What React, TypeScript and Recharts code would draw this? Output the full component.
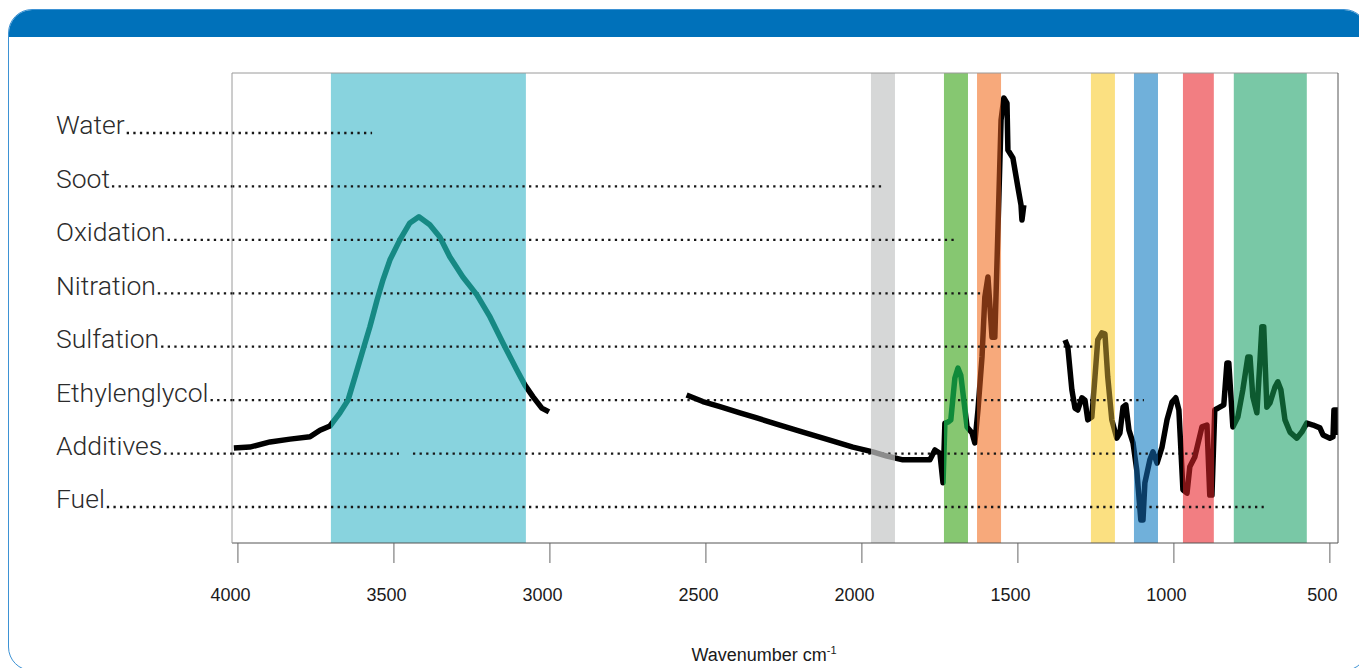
import React from "react";
import {
  ComposedChart,
  Line,
  XAxis,
  YAxis,
  ReferenceArea,
  ReferenceLine,
} from "recharts";

// IR spectrum (wavenumber cm-1 / relative absorbance); nulls split the three ranges
const spectrumWn = [
  4013, 3962, 3897, 3833, 3769, 3737, 3705, 3673, 3647, 3625, 3599, 3577, 3554, 3535, 3513, 3481, 3449, 3420,
  3385, 3353, 3321, 3279, 3234, 3192, 3151, 3106, 3080, 3054, 3026, 3003,
  2800,
  2562, 2510, 2455, 2391, 2337, 2263, 2189, 2103, 2029, 1965, 1920, 1869, 1814, 1782, 1766, 1750, 1740, 1734,
  1724, 1715, 1702, 1692, 1683, 1663, 1647, 1638, 1628, 1615, 1606, 1596, 1583, 1574, 1564, 1554, 1545, 1535,
  1532, 1516, 1500, 1490, 1487, 1481,
  1420,
  1349, 1340, 1327, 1317, 1308, 1295, 1285, 1276, 1263, 1253, 1244, 1231, 1221, 1212, 1199, 1183, 1173, 1163,
  1154, 1144, 1131, 1119, 1106, 1099, 1093, 1077, 1067, 1054, 1038, 1022, 1006, 994, 984, 971, 958, 949, 933,
  910, 894, 885, 878, 869, 853, 840, 830, 824, 811, 795, 779, 763, 756, 747, 734, 724, 718, 712, 702, 692, 676,
  667, 657, 644, 628, 606, 590, 574, 554, 532, 522, 500, 490, 487, 476, 475,
];
const spectrumAbs = [
  0.202, 0.204, 0.215, 0.221, 0.226, 0.24, 0.249, 0.277, 0.304, 0.353, 0.411, 0.46, 0.517, 0.56, 0.602, 0.645,
  0.681, 0.694, 0.677, 0.651, 0.609, 0.566, 0.528, 0.481, 0.426, 0.368, 0.336, 0.311, 0.287, 0.279,
  null,
  0.315, 0.301, 0.29, 0.277, 0.266, 0.251, 0.236, 0.219, 0.204, 0.194, 0.185, 0.177, 0.177, 0.177, 0.198, 0.191,
  0.128, 0.255, 0.257, 0.262, 0.351, 0.372, 0.357, 0.247, 0.234, 0.213, 0.283, 0.396, 0.523, 0.566, 0.438, 0.438,
  0.666, 0.9, 0.947, 0.936, 0.836, 0.819, 0.757, 0.719, 0.687, 0.719,
  null,
  0.432, 0.417, 0.326, 0.287, 0.283, 0.309, 0.304, 0.262, 0.268, 0.353, 0.432, 0.447, 0.445, 0.353, 0.262, 0.223,
  0.234, 0.289, 0.294, 0.24, 0.213, 0.155, 0.049, 0.049, 0.128, 0.177, 0.194, 0.17, 0.204, 0.262, 0.3, 0.309,
  0.283, 0.113, 0.106, 0.162, 0.183, 0.247, 0.251, 0.102, 0.102, 0.283, 0.289, 0.294, 0.383, 0.383, 0.247, 0.268,
  0.326, 0.396, 0.396, 0.311, 0.277, 0.389, 0.46, 0.46, 0.289, 0.298, 0.332, 0.343, 0.326, 0.262, 0.236, 0.223,
  0.236, 0.255, 0.251, 0.245, 0.23, 0.223, 0.226, 0.283, 0.283, 0.23,
];

// highlighted absorption bands (wavenumber ranges)
const bandFrom = [3702, 1971, 1737, 1631, 1266, 1128, 971, 808];
const bandTo = [3077, 1894, 1660, 1554, 1189, 1051, 872, 574];

const rowLabels = ["Water", "Soot", "Oxidation", "Nitration", "Sulfation", "Ethylenglycol", "Additives", "Fuel"];
const rowEnds = [3570, 1936, 1699, 1599, 1260, 1096, 939, 712];
const additivesGap = [3484, 3439];

const xTicks = [4000, 3500, 3000, 2500, 2000, 1500, 1000, 500];

// styling
const bandFill = ["#88d3de", "#d6d7d7", "#86c771", "#f7a97b", "#fbe081", "#70b0da", "#f27e82", "#79c8a6"];
const bandInk = ["#168984", "#8c8c8c", "#108a3a", "#7b3413", "#6f5a1c", "#0b3d66", "#7d1416", "#0d5a30"];
const X_DOMAIN: [number, number] = [474, 4019];
const ROW_DOMAIN: [number, number] = [0.326, 9.123];
const LABEL_FONT = "Roboto, 'Open Sans', sans-serif";
const AXIS_FONT = "'Liberation Sans', Arial, sans-serif";
const DOTS = { stroke: "#161616", strokeWidth: 2.3, strokeDasharray: "2.3 4.3" };

const spectrum = spectrumWn.map((wn, i) => ({ wn, abs: spectrumAbs[i] }));
const wnMax = Math.max(...spectrumWn);
const wnMin = Math.min(...spectrumWn);
const gradOffset = (v: number) => (wnMax - v) / (wnMax - wnMin);

const measureCtx = typeof document !== "undefined" ? document.createElement("canvas").getContext("2d") : null;

function RowTick(props: any) {
  const { y, payload } = props;
  const label = rowLabels[rowLabels.length - payload.value];
  if (!label) return null;
  let w = label.length * 12;
  if (measureCtx) {
    measureCtx.font = `300 26.5px ${LABEL_FONT}`;
    w = measureCtx.measureText(label).width;
  }
  return (
    <g>
      <text x={56} y={y + 1.5} fontFamily={LABEL_FONT} fontWeight={300} fontSize={26.5} fill="#2b2b2b">
        {label}
      </text>
      <line x1={56 + w + 2} x2={232} y1={y} y2={y} {...DOTS} />
    </g>
  );
}

function WnTick(props: any) {
  const { x, y, payload } = props;
  return (
    <text x={x - 7.5} y={y} dy="0.71em" textAnchor="middle" fontSize={18} fill="#1a1a1a" fontFamily={AXIS_FONT}>
      {payload.value}
    </text>
  );
}

export default function App() {
  const stops: { off: number; color: string }[] = [{ off: 0, color: "#000" }];
  bandFrom.forEach((from, i) => {
    stops.push({ off: gradOffset(from), color: "#000" });
    stops.push({ off: gradOffset(from), color: bandInk[i] });
    stops.push({ off: gradOffset(bandTo[i]), color: bandInk[i] });
    stops.push({ off: gradOffset(bandTo[i]), color: "#000" });
  });
  stops.push({ off: 1, color: "#000" });

  return (
    <div style={{ position: "fixed", left: 0, top: 0, width: 1359, height: 668, overflow: "hidden", background: "#fff" }}>
      <div
        style={{
          position: "absolute",
          left: 8,
          top: 9,
          width: 1360,
          height: 662,
          boxSizing: "border-box",
          border: "1.5px solid #3d92d4",
          borderRadius: 24,
          overflow: "hidden",
        }}
      >
        <div style={{ height: 27, background: "#0071ba" }} />
      </div>
      <div style={{ position: "absolute", left: 0, top: 0 }}>
        <ComposedChart
          width={1359}
          height={668}
          data={spectrum}
          margin={{ top: 72, right: 20, bottom: 0, left: 0 }}
        >
          <defs>
            <linearGradient id="bandInk" x1="0" y1="0" x2="1" y2="0">
              {stops.map((s, i) => (
                <stop key={i} offset={s.off} stopColor={s.color} />
              ))}
            </linearGradient>
          </defs>
          <XAxis
            dataKey="wn"
            type="number"
            domain={X_DOMAIN}
            reversed
            allowDataOverflow
            ticks={xTicks}
            interval={0}
            height={125}
            tickSize={20}
            tickMargin={25}
            tickLine={{ stroke: "#666" }}
            axisLine={{ stroke: "#555" }}
            tick={<WnTick />}
          />
          <XAxis
            xAxisId="top"
            orientation="top"
            dataKey="wn"
            type="number"
            domain={X_DOMAIN}
            reversed
            allowDataOverflow
            height={1}
            tick={false}
            tickLine={false}
            axisLine={{ stroke: "#9a9a9a" }}
          />
          <YAxis
            yAxisId="rows"
            orientation="left"
            type="number"
            domain={ROW_DOMAIN}
            allowDataOverflow
            ticks={[1, 2, 3, 4, 5, 6, 7, 8]}
            interval={0}
            width={232}
            tickLine={false}
            axisLine={{ stroke: "#9a9a9a" }}
            tick={<RowTick />}
          />
          <YAxis
            yAxisId="abs"
            orientation="right"
            type="number"
            domain={[0, 1]}
            allowDataOverflow
            width={1}
            tick={false}
            tickLine={false}
            axisLine={{ stroke: "#555" }}
          />
          {bandFrom.map((from, i) => (
            <ReferenceArea
              key={`band-${i}`}
              yAxisId="abs"
              x1={from}
              x2={bandTo[i]}
              fill={bandFill[i]}
              fillOpacity={1}
              stroke="none"
            />
          ))}
          {rowLabels.map((label, i) => {
            const row = rowLabels.length - i;
            const segs =
              label === "Additives"
                ? [
                    [X_DOMAIN[1], additivesGap[0]],
                    [additivesGap[1], rowEnds[i]],
                  ]
                : [[X_DOMAIN[1], rowEnds[i]]];
            return segs.map((s, j) => (
              <ReferenceLine
                key={`row-${i}-${j}`}
                yAxisId="rows"
                segment={[
                  { x: s[0], y: row },
                  { x: s[1], y: row },
                ]}
                {...DOTS}
              />
            ));
          })}
          <Line
            yAxisId="abs"
            type="linear"
            dataKey="abs"
            stroke="url(#bandInk)"
            strokeWidth={5.5}
            strokeLinejoin="round"
            dot={false}
            activeDot={false}
            connectNulls={false}
            isAnimationActive={false}
          />
        </ComposedChart>
      </div>
      <div
        style={{
          position: "absolute",
          left: 664,
          top: 646,
          width: 200,
          textAlign: "center",
          fontFamily: AXIS_FONT,
          fontSize: 18,
          lineHeight: "18px",
          color: "#1a1a1a",
        }}
      >
        Wavenumber cm<sup style={{ fontSize: 11, verticalAlign: "super", lineHeight: 0 }}>-1</sup>
      </div>
    </div>
  );
}
